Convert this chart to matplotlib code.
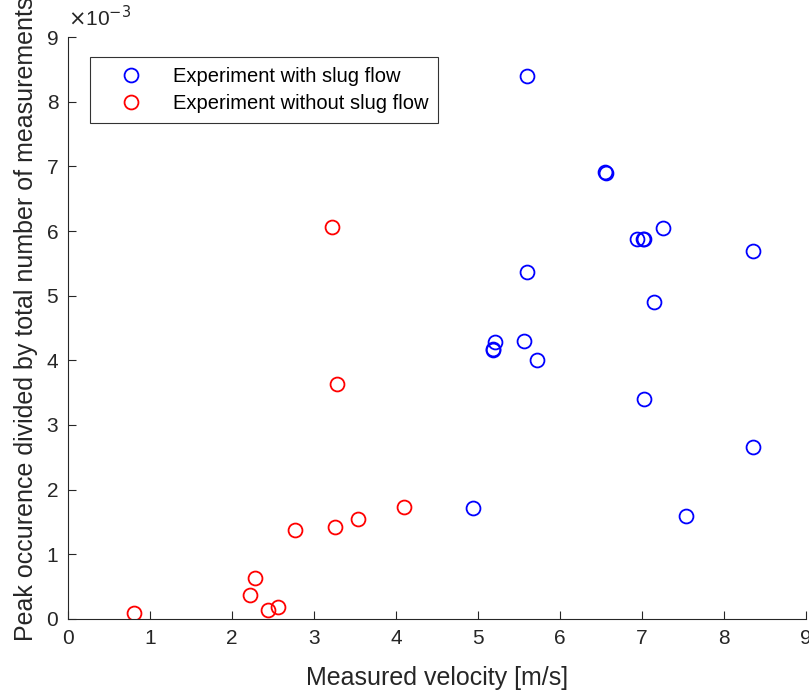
import numpy as np
import matplotlib.pyplot as plt

plt.rcParams['font.family'] = ['Liberation Sans', 'DejaVu Sans']

# velocities [m/s] and peak occurrence (in units of 1e-3)
slug_x = [5.60, 6.55, 6.56, 6.94, 7.01, 7.02, 7.26, 8.35, 5.60, 7.15,
          5.21, 5.18, 5.18, 5.56, 5.72, 7.02, 8.35, 4.94, 7.54]
slug_y = [8.40, 6.91, 6.90, 5.88, 5.88, 5.87, 6.05, 5.69, 5.37, 4.90,
          4.29, 4.17, 4.16, 4.30, 4.00, 3.40, 2.66, 1.71, 1.60]

noslug_x = [3.22, 3.28, 2.77, 3.26, 3.54, 4.10, 2.28, 2.22, 2.44, 2.56, 0.80]
noslug_y = [6.06, 3.64, 1.38, 1.42, 1.55, 1.73, 0.63, 0.37, 0.14, 0.18, 0.09]

xticks = np.arange(0, 10)
yticks = np.arange(0, 10)

fig = plt.figure(figsize=(8.09, 6.93), dpi=100)
ax = fig.add_axes([68 / 809, 74 / 693, 738 / 809, 582 / 693])

ax.plot(slug_x, slug_y, 'o', mfc='none', mec='#0000ff', ms=10, mew=1.3,
        label='Experiment with slug flow')
ax.plot(noslug_x, noslug_y, 'o', mfc='none', mec='#ff0000', ms=10, mew=1.3,
        label='Experiment without slug flow')

ax.set_xlim(0, 9)
ax.set_ylim(0, 9)
ax.set_xticks(xticks)
ax.set_yticks(yticks)

for side in ['top', 'right']:
    ax.spines[side].set_visible(False)
for side in ['left', 'bottom']:
    ax.spines[side].set_color('#262626')
    ax.spines[side].set_linewidth(0.8)
ax.tick_params(direction='in', length=6, width=0.8, colors='#262626',
               labelsize=15, pad=7)

# exponent label like MATLAB's
ax.text(0.0, 1.012, r'$\times$10$^{-3}$', transform=ax.transAxes,
        fontsize=15, color='#262626', va='bottom', ha='left')

ax.set_xlabel('Measured velocity [m/s]', fontsize=18, color='#262626', labelpad=13)
ax.set_ylabel('Peak occurence divided by total number of measurements',
              fontsize=18, color='#262626')
ax.yaxis.set_label_coords(-0.040, 0.515)

leg = ax.legend(loc='upper left', bbox_to_anchor=(22 / 738, 1 - 20 / 582),
                fontsize=14.5, frameon=True, fancybox=False, borderpad=0.5,
                handletextpad=0.5, handlelength=3.1, labelspacing=0.4,
                borderaxespad=0)
leg.get_frame().set_edgecolor('black')
leg.get_frame().set_linewidth(0.8)

fig.savefig('out.png', dpi=100)
